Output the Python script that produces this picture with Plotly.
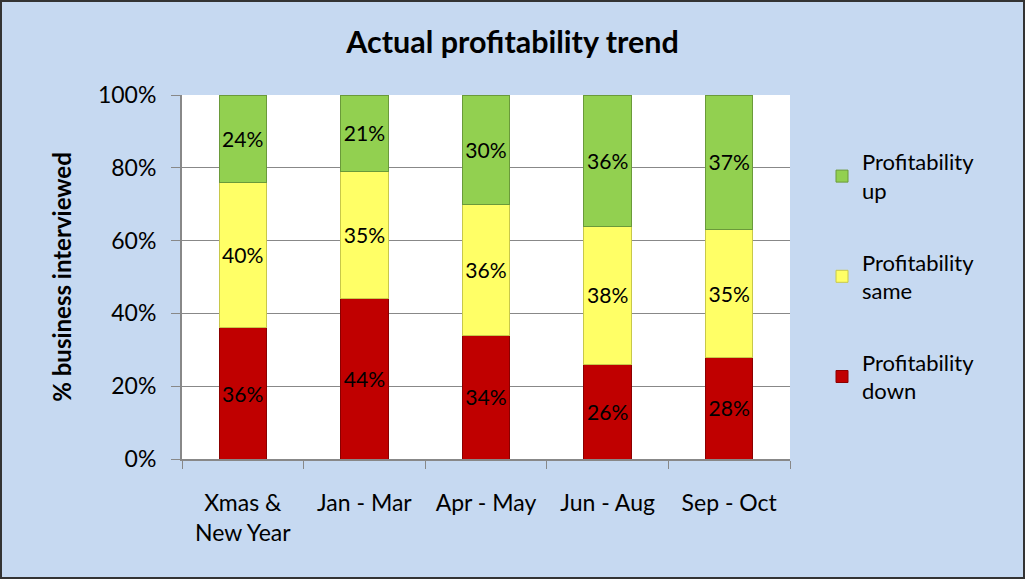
import plotly.graph_objects as go

categories = ["Xmas &<br>New Year", "Jan - Mar", "Apr - May", "Jun - Aug", "Sep - Oct"]
down = [36, 44, 34, 26, 28]
same = [40, 35, 36, 38, 35]
up = [24, 21, 30, 36, 37]
tick_vals = [0, 20, 40, 60, 80, 100]
tick_text = ["0%", "20%", "40%", "60%", "80%", "100%"]

FONT = "Lato, 'Open Sans', sans-serif"

series = [
    ("Profitability<br>down", down, "#C00000", "#8B0000", "down", 3),
    ("Profitability<br>same", same, "#FFFF66", "#C8C84A", "same", 2),
    ("Profitability<br>up", up, "#92D050", "#6A9A3A", "up", 1),
]

fig = go.Figure()
for name, vals, color, lc, grp, rank in series:
    fig.add_trace(go.Bar(
        x=categories, y=vals, name=name, legendgroup=grp, legendrank=rank,
        marker=dict(color=color, line=dict(color=lc, width=1)),
        text=[f"{v}%" for v in vals], textposition="inside",
        insidetextanchor="middle", textangle=0,
        textfont=dict(family=FONT, size=22, color="black"),
        hoverinfo="skip",
    ))

L, R, T, B = 182, 235, 95, 120
W, H = 1025, 579
pw, ph = W - L - R, H - T - B

fig.update_layout(
    barmode="stack",
    bargap=0.61,
    width=W, height=H,
    paper_bgcolor="#C6D9F1",
    plot_bgcolor="white",
    margin=dict(l=L, r=R, t=T, b=B, autoexpand=False),
    title=dict(text="<b>Actual profitability trend</b>", x=0.5, xanchor="center",
               xref="container", y=1 - 42 / H, yanchor="middle", yref="container",
               font=dict(family=FONT, size=30.5, color="black")),
    font=dict(family=FONT, size=22, color="black"),
    legend=dict(x=(822 - L) / pw, y=(459 - 141) / ph, xanchor="left", yanchor="top",
                traceorder="grouped", tracegroupgap=40,
                font=dict(family=FONT, size=22), bgcolor="rgba(0,0,0,0)",
                itemwidth=30),
    uniformtext=dict(minsize=10, mode="show"),
    shapes=[dict(type="rect", xref="paper", yref="paper",
                 x0=(1 - L) / pw, x1=(1024 - L) / pw,
                 y0=(459 - 578) / ph, y1=(459 - 1) / ph,
                 line=dict(color="#333333", width=2))],
)
fig.update_xaxes(tickson="boundaries", ticks="outside", ticklen=8, tickcolor="#888888",
                 showline=True, linecolor="#888888", linewidth=2, automargin=False,
                 ticklabelstandoff=22,
                 tickfont=dict(family=FONT, size=23))
fig.update_yaxes(range=[0, 100], tickvals=tick_vals, ticktext=tick_text,
                 ticks="outside", ticklen=9, tickcolor="#888888",
                 showline=True, linecolor="#888888", linewidth=2,
                 showgrid=True, gridcolor="#888888", gridwidth=1, automargin=False,
                 ticklabelstandoff=10,
                 tickfont=dict(family=FONT, size=23),
                 title=dict(text="<b>% business interviewed</b>",
                            font=dict(family=FONT, size=24), standoff=20))

fig.write_html("out.html", config={"displayModeBar": False},
               post_script="document.body.style.margin='0';document.body.style.overflow='hidden';")
